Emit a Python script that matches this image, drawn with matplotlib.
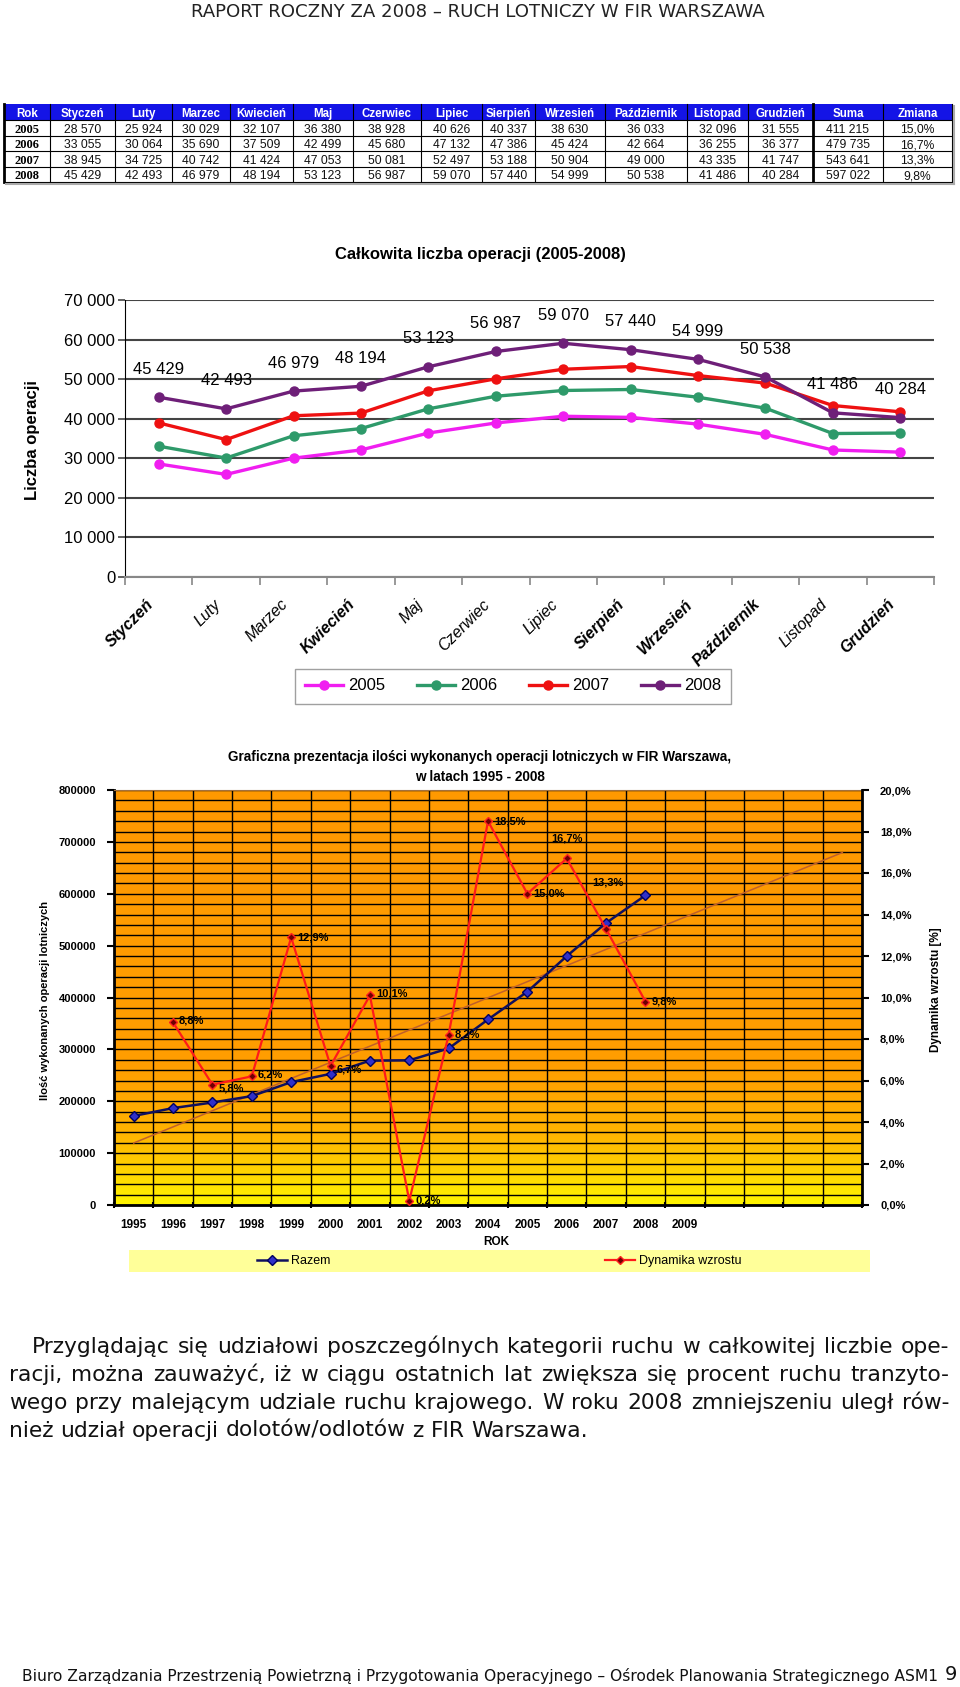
import numpy as np
import matplotlib
matplotlib.use('Agg')
import matplotlib.pyplot as plt
from matplotlib.colors import LinearSegmentedColormap
from matplotlib.lines import Line2D
from matplotlib.patches import Rectangle
from matplotlib.ticker import MultipleLocator, FixedLocator
import matplotlib.transforms as mtrans

W, H = 960, 1687

# ---------------- data: monthly operations (table + chart 1)
months = ['Styczeń', 'Luty', 'Marzec', 'Kwiecień', 'Maj', 'Czerwiec', 'Lipiec',
          'Sierpień', 'Wrzesień', 'Październik', 'Listopad', 'Grudzień']
years = ['2005', '2006', '2007', '2008']
ops_2005 = [28570, 25924, 30029, 32107, 36380, 38928, 40626, 40337, 38630, 36033, 32096, 31555]
ops_2006 = [33055, 30064, 35690, 37509, 42499, 45680, 47132, 47386, 45424, 42664, 36255, 36377]
ops_2007 = [38945, 34725, 40742, 41424, 47053, 50081, 52497, 53188, 50904, 49000, 43335, 41747]
ops_2008 = [45429, 42493, 46979, 48194, 53123, 56987, 59070, 57440, 54999, 50538, 41486, 40284]
suma = [411215, 479735, 543641, 597022]
zmiana = [15.0, 16.7, 13.3, 9.8]

# ---------------- data: yearly totals 1995-2008 (chart 2)
lata = ['1995', '1996', '1997', '1998', '1999', '2000', '2001', '2002',
        '2003', '2004', '2005', '2006', '2007', '2008', '2009']
razem = [171700, 186800, 197600, 209900, 236900, 252800, 278300, 278900,
         301800, 357600, 411215, 479735, 543641, 597022]
dynamika = [8.8, 5.8, 6.2, 12.9, 6.7, 10.1, 0.2, 8.2, 18.5, 15.0, 16.7, 13.3, 9.8]


def box(x0, y0, x1, y1):
    return [x0 / W, 1 - y1 / H, (x1 - x0) / W, (y1 - y0) / H]


def spaced(v):
    return f"{v:,}".replace(',', ' ')


fig = plt.figure(figsize=(W / 100, H / 100), dpi=100)
fig.patch.set_facecolor('white')
rend = fig.canvas.get_renderer()

# page axes in pixel coordinates for free text and the table
page = fig.add_axes([0, 0, 1, 1])
page.set_xlim(0, W)
page.set_ylim(H, 0)
page.axis('off')

SANS = ['Liberation Sans', 'DejaVu Sans']
BODY = ['DejaVu Sans']


def fit_text(x, y, s, width, size0=12, **kw):
    t = page.text(x, y, s, fontsize=size0, **kw)
    w = t.get_window_extent(renderer=rend).width
    t.set_fontsize(size0 * width / w)
    return t


# header / footer
fit_text(478, 12, 'RAPORT ROCZNY ZA 2008 – RUCH LOTNICZY W FIR WARSZAWA', 575,
         ha='center', va='center', family=BODY, color='#222222')
fit_text(22, 1676, 'Biuro Zarządzania Przestrzenią Powietrzną i Przygotowania Operacyjnego – '
         'Ośrodek Planowania Strategicznego ASM1', 912,
         ha='left', va='center', family=BODY, color='#111111')
page.text(951, 1674, '9', ha='center', va='center', fontsize=14, family=BODY, color='#111111')

# ---------------- table
col_edges = [4, 50, 115, 172, 230, 293, 353, 421, 482, 535, 605, 687, 748, 813, 883, 952]
row_edges = [104, 120, 135.5, 151, 166.5, 182]
headers = ['Rok'] + months + ['Suma', 'Zmiana']
page.add_patch(Rectangle((col_edges[0], row_edges[0]), col_edges[-1] - col_edges[0],
                         row_edges[1] - row_edges[0], facecolor='#1414E6', edgecolor='none'))
for j, h in enumerate(headers):
    xc = (col_edges[j] + col_edges[j + 1]) / 2
    page.text(xc, (row_edges[0] + row_edges[1]) / 2 + 4.5, h, ha='center', va='baseline',
              color='white', fontweight='bold', fontsize=8.3, family=SANS)
rows = [ops_2005, ops_2006, ops_2007, ops_2008]
for i, yr in enumerate(years):
    yb = (row_edges[i + 1] + row_edges[i + 2]) / 2 + 4.8
    page.text((col_edges[0] + col_edges[1]) / 2, yb, yr, ha='center', va='baseline',
              fontweight='bold', fontsize=9, family=['Liberation Serif', 'DejaVu Serif'])
    vals = [spaced(v) for v in rows[i]] + [spaced(suma[i]), f"{zmiana[i]:.1f}%".replace('.', ',')]
    for j, s in enumerate(vals):
        xc = (col_edges[j + 1] + col_edges[j + 2]) / 2
        page.text(xc, yb, s, ha='center', va='baseline', fontsize=8.7, family=SANS,
                  color='#111111')
for y in row_edges[1:]:
    page.plot([col_edges[0], col_edges[-1]], [y, y], color='black', lw=0.8)
for x in col_edges:
    lw = 2.0 if x in (col_edges[0], 813) else 0.8
    page.plot([x, x], [row_edges[0], row_edges[-1]], color='black', lw=lw)
page.plot([col_edges[-1] + 2, col_edges[-1] + 2], [row_edges[0] + 2, row_edges[-1] + 2],
          color='#aaaaaa', lw=1.5)
page.plot([col_edges[0] + 2, col_edges[-1] + 2], [row_edges[-1] + 2, row_edges[-1] + 2],
          color='#aaaaaa', lw=1.5)

# ---------------- chart 1: monthly operations 2005-2008
page.text(480, 254, 'Całkowita liczba operacji (2005-2008)', ha='center', va='center',
          fontsize=12, fontweight='bold', family=SANS)
ax1 = fig.add_axes(box(125, 300, 934, 577))
xm = np.arange(len(months)) + 0.5
series = [(ops_2005, '#F01EF0', '2005'), (ops_2006, '#2E9A6A', '2006'),
          (ops_2007, '#EE1111', '2007'), (ops_2008, '#6E1F78', '2008')]
for vals, col, lab in series:
    ax1.plot(xm, vals, color=col, lw=2.4, marker='o', ms=6.5, label=lab, zorder=3)
for xi, v in zip(xm, ops_2008):
    ax1.annotate(spaced(v), (xi, v), xytext=(0, 28), textcoords='offset pixels',
                 ha='center', va='center', fontsize=12, family=SANS)
ax1.set_xlim(0, 12)
ax1.set_ylim(0, 70000)
ax1.set_yticks(range(0, 70001, 10000))
ax1.set_yticklabels([spaced(v) for v in range(0, 70001, 10000)], fontsize=12, family=SANS)
ax1.yaxis.grid(True, color='#444444', lw=1.5)
ax1.set_axisbelow(True)
ax1.set_xticks(range(13))
ax1.set_xticklabels([])
ax1.tick_params(axis='x', length=6, color='#888888', width=1.2)
ax1.tick_params(axis='y', length=5, color='#444444', width=1.2, pad=2)
for s in ['top', 'right']:
    ax1.spines[s].set_visible(False)
ax1.spines['left'].set_color('black')
ax1.spines['bottom'].set_color('#888888')
ax1.spines['bottom'].set_linewidth(1.5)
bold_months = {'Styczeń', 'Kwiecień', 'Sierpień', 'Wrzesień', 'Październik', 'Grudzień'}
for xi, m in zip(xm, months):
    tr = mtrans.offset_copy(ax1.get_xaxis_transform(), fig=fig, x=-8, y=-25, units='dots')
    ax1.text(xi, 0, m, transform=tr, rotation=45, ha='right', va='center',
             rotation_mode='anchor', fontsize=11.5, style='italic', family=SANS,
             fontweight='bold' if m in bold_months else 'normal')
page.text(32, 440, 'Liczba operacji', rotation=90, ha='center', va='center',
          fontsize=12, fontweight='bold', family=SANS)
h1, l1 = ax1.get_legend_handles_labels()
fig.legend(h1, l1, loc='center', bbox_to_anchor=(513 / W, 1 - 686 / H), ncol=4,
           frameon=True, fancybox=False, edgecolor='#888888',
           prop={'family': SANS, 'size': 12}, handlelength=2.3, columnspacing=1.9,
           borderpad=0.6, handletextpad=0.3)

# ---------------- chart 2: yearly totals 1995-2008 and growth
page.text(480, 757, 'Graficzna prezentacja ilości wykonanych operacji lotniczych w FIR Warszawa,',
          ha='center', va='center', fontsize=9.8, fontweight='bold', family=SANS)
page.text(480, 777, 'w latach 1995 - 2008', ha='center', va='center', fontsize=9.8,
          fontweight='bold', family=SANS)
ax2 = fig.add_axes(box(114, 790, 862, 1205))
grad = LinearSegmentedColormap.from_list('bg', [(0.0, '#FFF500'), (0.07, '#FFD800'), (0.17, '#FFB400'),
                                                (0.33, '#FF9E00'), (1.0, '#FF9900')])
ax2.imshow(np.linspace(0, 1, 256).reshape(-1, 1), extent=[0, 19, 0, 800000], aspect='auto',
           cmap=grad, origin='lower', zorder=0)
ax2.set_xlim(0, 19)
ax2.set_ylim(0, 800000)
ax2.xaxis.set_major_locator(MultipleLocator(1))
ax2.xaxis.set_minor_locator(FixedLocator(np.arange(len(lata)) + 0.5))
ax2.set_xticklabels([])
ax2.set_xticklabels(lata, minor=True, fontsize=8.5, fontweight='bold', family=SANS)
ax2.tick_params(axis='x', which='minor', length=0, pad=10)
ax2.tick_params(axis='x', which='major', length=5, width=1.5, direction='inout')
ax2.yaxis.set_major_locator(MultipleLocator(100000))
ax2.yaxis.set_minor_locator(MultipleLocator(20000))
ax2.set_yticklabels([f"{int(v)}" for v in ax2.get_yticks()], fontsize=8, fontweight='bold', family=SANS)
ax2.tick_params(axis='y', which='major', length=5, width=1.5, pad=8)
ax2.tick_params(axis='y', which='minor', length=0)
ax2.xaxis.grid(True, which='major', color='black', lw=1.0)
ax2.yaxis.grid(True, which='both', color='black', lw=1.0)
for s in ['left', 'bottom']:
    ax2.spines[s].set_linewidth(2)
ax2.spines['top'].set_color('#A07040')
ax2.spines['right'].set_visible(False)

xr = np.arange(len(razem)) + 0.5
coef = np.polyfit(np.arange(len(razem)), razem, 1)
xt = np.array([0, 18])
ax2.plot(xt + 0.5, np.polyval(coef, xt), color='#C0602A', lw=1.1, zorder=3)
ax2.plot(xr, razem, color='#10105E', lw=1.8, marker='D', ms=5.5, mfc='#3030C8',
         mec='#000060', zorder=4)

ax2r = ax2.twinx()
ax2r.set_ylim(0, 20)
ax2r.set_yticks(range(0, 21, 2))
ax2r.set_yticklabels([f"{v:.1f}%".replace('.', ',') for v in range(0, 21, 2)],
                     fontsize=8, fontweight='bold', family=SANS)
ax2r.tick_params(axis='y', length=5, width=1.5, pad=8)
ax2r.spines['right'].set_linewidth(2)
for s in ['top', 'left', 'bottom']:
    ax2r.spines[s].set_visible(False)
xd = np.arange(1, len(dynamika) + 1) + 0.5
ax2r.plot(xd, dynamika, color='#FF1A1A', lw=1.6, marker='D', ms=4, mfc='#700000',
          mec='#FF2020', zorder=5)
lab_off = [(6, 2), (6, -4), (6, 2), (6, 0), (6, -4), (6, 2), (6, 0), (6, 0),
           (6, 0), (6, 0), (0, 20), (2, 47), (6, 0)]
for xi, v, (dx, dy) in zip(xd, dynamika, lab_off):
    ax2r.annotate(f"{v:.1f}%".replace('.', ','), (xi, v), xytext=(dx, dy),
                  textcoords='offset pixels', ha='left' if dx > 3 else 'center', va='center',
                  fontsize=8, fontweight='bold', family=SANS, zorder=6)

page.text(496, 1242, 'ROK', ha='center', va='center', fontsize=8.5, fontweight='bold', family=SANS)
page.text(45, 1000, 'Ilość wykonanych operacji lotniczych', rotation=90, ha='center', va='center',
          fontsize=8, fontweight='bold', family=SANS)
page.text(936, 990, 'Dynamika wzrostu [%]', rotation=90, ha='center', va='center',
          fontsize=8.5, fontweight='bold', family=SANS)

axl = fig.add_axes(box(129, 1250, 870, 1272))
axl.set_facecolor('#FFFF99')
for s in axl.spines.values():
    s.set_visible(False)
axl.set_xticks([])
axl.set_yticks([])
hl = [Line2D([], [], color='#10105E', lw=1.8, marker='D', ms=5, mfc='#3030C8', mec='#000060'),
      Line2D([], [], color='#FF1A1A', lw=1.6, marker='D', ms=4, mfc='#700000', mec='#FF2020')]
axl.legend(hl, ['Razem', 'Dynamika wzrostu'], loc='center', ncol=2, frameon=False,
           prop={'family': SANS, 'size': 9}, columnspacing=22, handlelength=2.4, handletextpad=0.3)

# ---------------- paragraph (justified)
lines = ["Przyglądając się udziałowi poszczególnych kategorii ruchu w całkowitej liczbie ope-",
         "racji, można zauważyć, iż w ciągu ostatnich lat zwiększa się procent ruchu tranzyto-",
         "wego przy malejącym udziale ruchu krajowego. W roku 2008 zmniejszeniu uległ rów-",
         "nież udział operacji dolotów/odlotów z FIR Warszawa."]
line_y = [1353, 1381, 1409, 1437]
line_x0 = [32, 9, 9, 9]
right = 949
size0 = 13
ratios = []
for ln, x0 in zip(lines[:3], line_x0[:3]):
    probe = page.text(0, 0, ln, fontsize=size0, family=BODY)
    ratios.append(0.99 * (right - x0) / probe.get_window_extent(renderer=rend).width)
    probe.remove()
size = size0 * min(ratios)
sp = page.text(0, 0, 'a a', fontsize=size, family=BODY)
sp2 = page.text(0, 0, 'aa', fontsize=size, family=BODY)
space_w = sp.get_window_extent(renderer=rend).width - sp2.get_window_extent(renderer=rend).width
sp.remove()
sp2.remove()
for k, (ln, y, x0) in enumerate(zip(lines, line_y, line_x0)):
    words = ln.split(' ')
    texts = [page.text(0, y, w, fontsize=size, family=BODY, va='baseline', ha='left', color='#111111')
             for w in words]
    widths = [t.get_window_extent(renderer=rend).width for t in texts]
    if k < len(lines) - 1:
        gap = (right - x0 - sum(widths)) / (len(words) - 1)
    else:
        gap = space_w
    x = x0
    for t, w in zip(texts, widths):
        t.set_x(x)
        x += w + gap

fig.savefig('out.png', dpi=100, facecolor='white')
